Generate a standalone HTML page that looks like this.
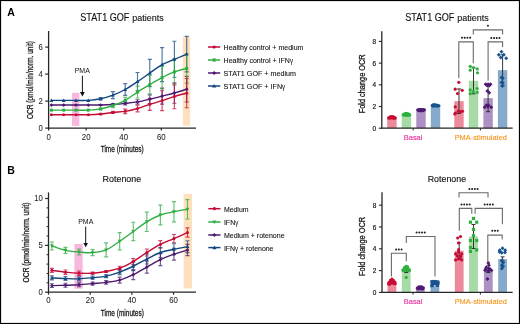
<!DOCTYPE html>
<html><head><meta charset="utf-8"><style>
html,body{margin:0;padding:0;background:#fff;width:520px;height:324px;overflow:hidden}
svg text{font-family:"Liberation Sans", sans-serif}
</style></head><body>
<svg width="520" height="324" viewBox="0 0 520 324" style="display:block;will-change:transform">
<g font-family='"Liberation Sans", sans-serif'>
<rect x="0" y="0" width="520" height="324" fill="#fff"/>
<text x="7.20" y="15.70" font-size="10.5" fill="#000" font-weight="bold">A</text>
<text x="7.20" y="174.40" font-size="10.5" fill="#000" font-weight="bold">B</text>
<text x="80.30" y="20.90" font-size="10.0" fill="#111" stroke="#111" stroke-width="0.12" textLength="49.1" lengthAdjust="spacingAndGlyphs">STAT1 GOF</text>
<text x="132.30" y="20.90" font-size="9.3" fill="#111" stroke="#111" stroke-width="0.12" textLength="31.4" lengthAdjust="spacingAndGlyphs">patients</text>
<text x="405.30" y="21.10" font-size="10.0" fill="#111" stroke="#111" stroke-width="0.12" textLength="49.1" lengthAdjust="spacingAndGlyphs">STAT1 GOF</text>
<text x="457.30" y="21.10" font-size="9.3" fill="#111" stroke="#111" stroke-width="0.12" textLength="31.4" lengthAdjust="spacingAndGlyphs">patients</text>
<text x="102.60" y="181.90" font-size="9.7" fill="#111" stroke="#111" stroke-width="0.15" textLength="38.6" lengthAdjust="spacingAndGlyphs">Rotenone</text>
<text x="427.70" y="181.70" font-size="9.7" fill="#111" stroke="#111" stroke-width="0.15" textLength="38.4" lengthAdjust="spacingAndGlyphs">Rotenone</text>
<rect x="72" y="92.8" width="7.4" height="33.1" fill="#f6b9dd"/>
<rect x="182.8" y="36.5" width="7.4" height="89.3" fill="#fde0bd"/>
<line x1="48.60" y1="31.00" x2="48.60" y2="128.70" stroke="#262626" stroke-width="1.3"/>
<line x1="48.00" y1="128.10" x2="196.00" y2="128.10" stroke="#262626" stroke-width="1.3"/>
<line x1="45.20" y1="128.10" x2="48.60" y2="128.10" stroke="#262626" stroke-width="1.2"/>
<text x="42.90" y="130.70" font-size="8.7" fill="#1a1a1a" stroke="#1a1a1a" stroke-width="0.05" text-anchor="end" textLength="4.3" lengthAdjust="spacingAndGlyphs">0</text>
<line x1="45.20" y1="101.10" x2="48.60" y2="101.10" stroke="#262626" stroke-width="1.2"/>
<text x="42.90" y="103.70" font-size="8.7" fill="#1a1a1a" stroke="#1a1a1a" stroke-width="0.05" text-anchor="end" textLength="4.3" lengthAdjust="spacingAndGlyphs">2</text>
<line x1="45.20" y1="74.10" x2="48.60" y2="74.10" stroke="#262626" stroke-width="1.2"/>
<text x="42.90" y="76.70" font-size="8.7" fill="#1a1a1a" stroke="#1a1a1a" stroke-width="0.05" text-anchor="end" textLength="4.3" lengthAdjust="spacingAndGlyphs">4</text>
<line x1="45.20" y1="47.10" x2="48.60" y2="47.10" stroke="#262626" stroke-width="1.2"/>
<text x="42.90" y="49.70" font-size="8.7" fill="#1a1a1a" stroke="#1a1a1a" stroke-width="0.05" text-anchor="end" textLength="4.3" lengthAdjust="spacingAndGlyphs">6</text>
<line x1="48.60" y1="128.10" x2="48.60" y2="130.60" stroke="#262626" stroke-width="1.2"/>
<text x="48.60" y="140.10" font-size="8.7" fill="#1a1a1a" stroke="#1a1a1a" stroke-width="0.05" text-anchor="middle" textLength="4.35" lengthAdjust="spacingAndGlyphs">0</text>
<line x1="86.16" y1="128.10" x2="86.16" y2="130.60" stroke="#262626" stroke-width="1.2"/>
<text x="86.16" y="140.10" font-size="8.7" fill="#1a1a1a" stroke="#1a1a1a" stroke-width="0.05" text-anchor="middle" textLength="8.7" lengthAdjust="spacingAndGlyphs">20</text>
<line x1="123.72" y1="128.10" x2="123.72" y2="130.60" stroke="#262626" stroke-width="1.2"/>
<text x="123.72" y="140.10" font-size="8.7" fill="#1a1a1a" stroke="#1a1a1a" stroke-width="0.05" text-anchor="middle" textLength="8.7" lengthAdjust="spacingAndGlyphs">40</text>
<line x1="161.28" y1="128.10" x2="161.28" y2="130.60" stroke="#262626" stroke-width="1.2"/>
<text x="161.28" y="140.10" font-size="8.7" fill="#1a1a1a" stroke="#1a1a1a" stroke-width="0.05" text-anchor="middle" textLength="8.7" lengthAdjust="spacingAndGlyphs">60</text>
<text x="122.20" y="151.60" font-size="9.2" fill="#1a1a1a" stroke="#1a1a1a" stroke-width="0.3" text-anchor="middle" textLength="43" lengthAdjust="spacingAndGlyphs">Time (minutes)</text>
<text x="33.40" y="80.10" font-size="9.3" fill="#1a1a1a" stroke="#1a1a1a" stroke-width="0.3" text-anchor="middle" textLength="78" lengthAdjust="spacingAndGlyphs" transform="rotate(-90 33.40 80.10)">OCR (pmol/min/norm. unit)</text>
<text x="82.30" y="72.70" font-size="7" fill="#111" text-anchor="middle">PMA</text>
<line x1="82.40" y1="75.80" x2="82.40" y2="92.50" stroke="#111" stroke-width="1"/>
<path d="M80,92 L84.8,92 L82.4,96.6Z" fill="#111"/>
<path d="M100.60,97.60 V100.00 M98.60,97.60 H102.60 M98.60,100.00 H102.60" stroke="#13467f" stroke-width="1.15" fill="none" opacity="0.75"/>
<path d="M112.90,91.66 V98.66 M110.90,91.66 H114.90 M110.90,98.66 H114.90" stroke="#13467f" stroke-width="1.15" fill="none" opacity="0.75"/>
<path d="M125.20,83.59 V95.39 M123.20,83.59 H127.20 M123.20,95.39 H127.20" stroke="#13467f" stroke-width="1.15" fill="none" opacity="0.75"/>
<path d="M137.50,72.46 V90.86 M135.50,72.46 H139.50 M135.50,90.86 H139.50" stroke="#13467f" stroke-width="1.15" fill="none" opacity="0.75"/>
<path d="M149.80,59.32 V86.72 M147.80,59.32 H151.80 M147.80,86.72 H151.80" stroke="#13467f" stroke-width="1.15" fill="none" opacity="0.75"/>
<path d="M162.10,47.65 V81.65 M160.10,47.65 H164.10 M160.10,81.65 H164.10" stroke="#13467f" stroke-width="1.15" fill="none" opacity="0.75"/>
<path d="M174.40,41.25 V77.25 M172.40,41.25 H176.40 M172.40,77.25 H176.40" stroke="#13467f" stroke-width="1.15" fill="none" opacity="0.75"/>
<path d="M186.70,36.32 V71.92 M184.70,36.32 H188.70 M184.70,71.92 H188.70" stroke="#13467f" stroke-width="1.15" fill="none" opacity="0.75"/>
<path d="M100.60,104.51 V105.51 M98.60,104.51 H102.60 M98.60,105.51 H102.60" stroke="#4b196e" stroke-width="1.15" fill="none" opacity="0.75"/>
<path d="M112.90,103.67 V105.27 M110.90,103.67 H114.90 M110.90,105.27 H114.90" stroke="#4b196e" stroke-width="1.15" fill="none" opacity="0.75"/>
<path d="M125.20,101.89 V104.89 M123.20,101.89 H127.20 M123.20,104.89 H127.20" stroke="#4b196e" stroke-width="1.15" fill="none" opacity="0.75"/>
<path d="M137.50,99.71 V104.11 M135.50,99.71 H139.50 M135.50,104.11 H139.50" stroke="#4b196e" stroke-width="1.15" fill="none" opacity="0.75"/>
<path d="M149.80,94.81 V103.61 M147.80,94.81 H151.80 M147.80,103.61 H151.80" stroke="#4b196e" stroke-width="1.15" fill="none" opacity="0.75"/>
<path d="M162.10,88.10 V104.10 M160.10,88.10 H164.10 M160.10,104.10 H164.10" stroke="#4b196e" stroke-width="1.15" fill="none" opacity="0.75"/>
<path d="M174.40,82.80 V103.20 M172.40,82.80 H176.40 M172.40,103.20 H176.40" stroke="#4b196e" stroke-width="1.15" fill="none" opacity="0.75"/>
<path d="M186.70,76.42 V102.02 M184.70,76.42 H188.70 M184.70,102.02 H188.70" stroke="#4b196e" stroke-width="1.15" fill="none" opacity="0.75"/>
<path d="M100.60,108.13 V109.73 M98.60,108.13 H102.60 M98.60,109.73 H102.60" stroke="#2eae42" stroke-width="1.15" fill="none" opacity="0.75"/>
<path d="M112.90,103.79 V107.59 M110.90,103.79 H114.90 M110.90,107.59 H114.90" stroke="#2eae42" stroke-width="1.15" fill="none" opacity="0.75"/>
<path d="M125.20,97.42 V103.42 M123.20,97.42 H127.20 M123.20,103.42 H127.20" stroke="#2eae42" stroke-width="1.15" fill="none" opacity="0.75"/>
<path d="M137.50,86.15 V97.95 M135.50,86.15 H139.50 M135.50,97.95 H139.50" stroke="#2eae42" stroke-width="1.15" fill="none" opacity="0.75"/>
<path d="M149.80,75.43 V93.83 M147.80,75.43 H151.80 M147.80,93.83 H151.80" stroke="#2eae42" stroke-width="1.15" fill="none" opacity="0.75"/>
<path d="M162.10,66.51 V88.71 M160.10,66.51 H164.10 M160.10,88.71 H164.10" stroke="#2eae42" stroke-width="1.15" fill="none" opacity="0.75"/>
<path d="M174.40,58.64 V85.24 M172.40,58.64 H176.40 M172.40,85.24 H176.40" stroke="#2eae42" stroke-width="1.15" fill="none" opacity="0.75"/>
<path d="M186.70,53.73 V83.13 M184.70,53.73 H188.70 M184.70,83.13 H188.70" stroke="#2eae42" stroke-width="1.15" fill="none" opacity="0.75"/>
<path d="M100.60,113.46 V114.66 M98.60,113.46 H102.60 M98.60,114.66 H102.60" stroke="#c60a36" stroke-width="1.15" fill="none" opacity="0.75"/>
<path d="M112.90,111.44 V113.44 M110.90,111.44 H114.90 M110.90,113.44 H114.90" stroke="#c60a36" stroke-width="1.15" fill="none" opacity="0.75"/>
<path d="M125.20,109.16 V113.56 M123.20,109.16 H127.20 M123.20,113.56 H127.20" stroke="#c60a36" stroke-width="1.15" fill="none" opacity="0.75"/>
<path d="M137.50,105.22 V111.82 M135.50,105.22 H139.50 M135.50,111.82 H139.50" stroke="#c60a36" stroke-width="1.15" fill="none" opacity="0.75"/>
<path d="M149.80,98.34 V110.34 M147.80,98.34 H151.80 M147.80,110.34 H151.80" stroke="#c60a36" stroke-width="1.15" fill="none" opacity="0.75"/>
<path d="M162.10,90.79 V110.59 M160.10,90.79 H164.10 M160.10,110.59 H164.10" stroke="#c60a36" stroke-width="1.15" fill="none" opacity="0.75"/>
<path d="M174.40,83.97 V108.78 M172.40,83.97 H176.40 M172.40,108.78 H176.40" stroke="#c60a36" stroke-width="1.15" fill="none" opacity="0.75"/>
<path d="M186.70,78.53 V107.73 M184.70,78.53 H188.70 M184.70,107.73 H188.70" stroke="#c60a36" stroke-width="1.15" fill="none" opacity="0.75"/>
<path d="M51.40,100.42 C53.45,100.42 59.60,100.42 63.70,100.42 C67.80,100.42 71.90,100.42 76.00,100.42 C80.10,100.42 84.20,100.69 88.30,100.42 C92.40,100.16 96.50,99.68 100.60,98.80 C104.70,97.93 108.80,96.71 112.90,95.16 C117.00,93.61 121.10,91.74 125.20,89.49 C129.30,87.24 133.40,84.41 137.50,81.66 C141.60,78.91 145.70,75.85 149.80,73.02 C153.90,70.19 158.00,66.94 162.10,64.65 C166.20,62.35 170.30,61.01 174.40,59.25 C178.50,57.49 184.65,54.97 186.70,54.12" stroke="#13467f" stroke-width="1.4" fill="none"/>
<path d="M51.40,98.47 L53.35,101.89 L49.45,101.89Z" fill="#13467f"/>
<path d="M63.70,98.47 L65.65,101.89 L61.75,101.89Z" fill="#13467f"/>
<path d="M76.00,98.47 L77.95,101.89 L74.05,101.89Z" fill="#13467f"/>
<path d="M88.30,98.47 L90.25,101.89 L86.35,101.89Z" fill="#13467f"/>
<path d="M100.60,96.85 L102.55,100.27 L98.65,100.27Z" fill="#13467f"/>
<path d="M112.90,93.21 L114.85,96.62 L110.95,96.62Z" fill="#13467f"/>
<path d="M125.20,87.54 L127.15,90.95 L123.25,90.95Z" fill="#13467f"/>
<path d="M137.50,79.71 L139.45,83.12 L135.55,83.12Z" fill="#13467f"/>
<path d="M149.80,71.07 L151.75,74.48 L147.85,74.48Z" fill="#13467f"/>
<path d="M162.10,62.70 L164.05,66.11 L160.15,66.11Z" fill="#13467f"/>
<path d="M174.40,57.30 L176.35,60.71 L172.45,60.71Z" fill="#13467f"/>
<path d="M186.70,52.17 L188.65,55.58 L184.75,55.58Z" fill="#13467f"/>
<path d="M51.40,105.01 C53.45,105.01 59.60,105.01 63.70,105.01 C67.80,105.01 71.90,105.01 76.00,105.01 C80.10,105.01 84.20,105.01 88.30,105.01 C92.40,105.01 96.50,105.10 100.60,105.01 C104.70,104.92 108.80,104.74 112.90,104.47 C117.00,104.20 121.10,103.82 125.20,103.39 C129.30,102.97 133.40,102.61 137.50,101.91 C141.60,101.21 145.70,100.18 149.80,99.21 C153.90,98.24 158.00,97.14 162.10,96.10 C166.20,95.07 170.30,94.15 174.40,93.00 C178.50,91.85 184.65,89.85 186.70,89.22" stroke="#4b196e" stroke-width="1.4" fill="none"/>
<path d="M51.40,103.14 L53.27,105.01 L51.40,106.89 L49.52,105.01Z" fill="#4b196e"/>
<path d="M63.70,103.14 L65.58,105.01 L63.70,106.89 L61.83,105.01Z" fill="#4b196e"/>
<path d="M76.00,103.14 L77.88,105.01 L76.00,106.89 L74.12,105.01Z" fill="#4b196e"/>
<path d="M88.30,103.14 L90.18,105.01 L88.30,106.89 L86.43,105.01Z" fill="#4b196e"/>
<path d="M100.60,103.14 L102.47,105.01 L100.60,106.89 L98.72,105.01Z" fill="#4b196e"/>
<path d="M112.90,102.60 L114.78,104.47 L112.90,106.35 L111.03,104.47Z" fill="#4b196e"/>
<path d="M125.20,101.52 L127.08,103.39 L125.20,105.27 L123.33,103.39Z" fill="#4b196e"/>
<path d="M137.50,100.03 L139.38,101.91 L137.50,103.78 L135.62,101.91Z" fill="#4b196e"/>
<path d="M149.80,97.33 L151.68,99.21 L149.80,101.08 L147.93,99.21Z" fill="#4b196e"/>
<path d="M162.10,94.23 L163.97,96.10 L162.10,97.98 L160.22,96.10Z" fill="#4b196e"/>
<path d="M174.40,91.12 L176.28,93.00 L174.40,94.88 L172.53,93.00Z" fill="#4b196e"/>
<path d="M186.70,87.34 L188.58,89.22 L186.70,91.09 L184.83,89.22Z" fill="#4b196e"/>
<path d="M51.40,110.14 C53.45,110.14 59.60,110.14 63.70,110.14 C67.80,110.14 71.90,110.14 76.00,110.14 C80.10,110.14 84.20,110.35 88.30,110.14 C92.40,109.94 96.50,109.67 100.60,108.93 C104.70,108.19 108.80,107.11 112.90,105.69 C117.00,104.27 121.10,102.70 125.20,100.42 C129.30,98.15 133.40,94.69 137.50,92.05 C141.60,89.42 145.70,87.04 149.80,84.63 C153.90,82.22 158.00,79.72 162.10,77.61 C166.20,75.49 170.30,73.47 174.40,71.94 C178.50,70.41 184.65,69.01 186.70,68.43" stroke="#2eae42" stroke-width="1.4" fill="none"/>
<rect x="49.90" y="108.64" width="3.00" height="3.00" fill="#2eae42"/>
<rect x="62.20" y="108.64" width="3.00" height="3.00" fill="#2eae42"/>
<rect x="74.50" y="108.64" width="3.00" height="3.00" fill="#2eae42"/>
<rect x="86.80" y="108.64" width="3.00" height="3.00" fill="#2eae42"/>
<rect x="99.10" y="107.43" width="3.00" height="3.00" fill="#2eae42"/>
<rect x="111.40" y="104.19" width="3.00" height="3.00" fill="#2eae42"/>
<rect x="123.70" y="98.92" width="3.00" height="3.00" fill="#2eae42"/>
<rect x="136.00" y="90.55" width="3.00" height="3.00" fill="#2eae42"/>
<rect x="148.30" y="83.13" width="3.00" height="3.00" fill="#2eae42"/>
<rect x="160.60" y="76.11" width="3.00" height="3.00" fill="#2eae42"/>
<rect x="172.90" y="70.44" width="3.00" height="3.00" fill="#2eae42"/>
<rect x="185.20" y="66.93" width="3.00" height="3.00" fill="#2eae42"/>
<path d="M51.40,114.73 C53.45,114.73 59.60,114.73 63.70,114.73 C67.80,114.73 71.90,114.73 76.00,114.73 C80.10,114.73 84.20,114.85 88.30,114.73 C92.40,114.62 96.50,114.44 100.60,114.06 C104.70,113.68 108.80,112.89 112.90,112.44 C117.00,111.99 121.10,112.01 125.20,111.36 C129.30,110.71 133.40,109.69 137.50,108.52 C141.60,107.35 145.70,105.64 149.80,104.34 C153.90,103.03 158.00,102.02 162.10,100.69 C166.20,99.37 170.30,97.64 174.40,96.38 C178.50,95.11 184.65,93.67 186.70,93.13" stroke="#c60a36" stroke-width="1.4" fill="none"/>
<circle cx="51.40" cy="114.73" r="1.5" fill="#c60a36"/>
<circle cx="63.70" cy="114.73" r="1.5" fill="#c60a36"/>
<circle cx="76.00" cy="114.73" r="1.5" fill="#c60a36"/>
<circle cx="88.30" cy="114.73" r="1.5" fill="#c60a36"/>
<circle cx="100.60" cy="114.06" r="1.5" fill="#c60a36"/>
<circle cx="112.90" cy="112.44" r="1.5" fill="#c60a36"/>
<circle cx="125.20" cy="111.36" r="1.5" fill="#c60a36"/>
<circle cx="137.50" cy="108.52" r="1.5" fill="#c60a36"/>
<circle cx="149.80" cy="104.34" r="1.5" fill="#c60a36"/>
<circle cx="162.10" cy="100.69" r="1.5" fill="#c60a36"/>
<circle cx="174.40" cy="96.38" r="1.5" fill="#c60a36"/>
<circle cx="186.70" cy="93.13" r="1.5" fill="#c60a36"/>
<line x1="208.00" y1="47.00" x2="220.20" y2="47.00" stroke="#c60a36" stroke-width="1.5"/>
<circle cx="214.10" cy="47.00" r="1.6" fill="#c60a36"/>
<text x="223.60" y="49.90" font-size="7.6" fill="#111" stroke="#111" stroke-width="0.1" textLength="79.8" lengthAdjust="spacingAndGlyphs">Healthy control + medium</text>
<line x1="208.00" y1="60.00" x2="220.20" y2="60.00" stroke="#2eae42" stroke-width="1.5"/>
<rect x="212.50" y="58.40" width="3.20" height="3.20" fill="#2eae42"/>
<text x="223.60" y="62.90" font-size="7.6" fill="#111" stroke="#111" stroke-width="0.1" textLength="69.4" lengthAdjust="spacingAndGlyphs">Healthy control + IFN<tspan font-size="6.6" stroke-width="0.05">γ</tspan></text>
<line x1="208.00" y1="73.00" x2="220.20" y2="73.00" stroke="#4b196e" stroke-width="1.5"/>
<path d="M214.10,71.00 L216.10,73.00 L214.10,75.00 L212.10,73.00Z" fill="#4b196e"/>
<text x="223.60" y="75.90" font-size="7.6" fill="#111" stroke="#111" stroke-width="0.1" textLength="72.4" lengthAdjust="spacingAndGlyphs">STAT1 GOF + medium</text>
<line x1="208.00" y1="86.00" x2="220.20" y2="86.00" stroke="#13467f" stroke-width="1.5"/>
<path d="M214.10,83.92 L216.18,87.56 L212.02,87.56Z" fill="#13467f"/>
<text x="223.60" y="88.90" font-size="7.6" fill="#111" stroke="#111" stroke-width="0.1" textLength="61.6" lengthAdjust="spacingAndGlyphs">STAT1 GOF + IFN<tspan font-size="6.6" stroke-width="0.05">γ</tspan></text>
<rect x="387.20" y="117.35" width="9.4" height="10.85" fill="#ec8a9c"/>
<rect x="401.70" y="114.75" width="9.4" height="13.45" fill="#a6dba6"/>
<rect x="416.30" y="109.97" width="9.4" height="18.23" fill="#ad90c4"/>
<rect x="430.80" y="106.28" width="9.4" height="21.92" fill="#86aacb"/>
<rect x="454.30" y="101.18" width="9.4" height="27.02" fill="#ec8a9c"/>
<rect x="468.80" y="80.79" width="9.4" height="47.41" fill="#a6dba6"/>
<rect x="483.40" y="98.15" width="9.4" height="30.05" fill="#ad90c4"/>
<rect x="497.90" y="70.15" width="9.4" height="58.05" fill="#86aacb"/>
<circle cx="388.70" cy="117.78" r="1.6" fill="#c80c34"/>
<circle cx="390.10" cy="116.81" r="1.6" fill="#c80c34"/>
<circle cx="391.50" cy="116.48" r="1.6" fill="#c80c34"/>
<circle cx="392.90" cy="116.70" r="1.6" fill="#c80c34"/>
<circle cx="394.30" cy="117.35" r="1.6" fill="#c80c34"/>
<circle cx="395.30" cy="118.11" r="1.6" fill="#c80c34"/>
<circle cx="389.50" cy="118.22" r="1.6" fill="#c80c34"/>
<circle cx="391.90" cy="117.89" r="1.6" fill="#c80c34"/>
<circle cx="393.90" cy="118.22" r="1.6" fill="#c80c34"/>
<circle cx="390.90" cy="117.57" r="1.6" fill="#c80c34"/>
<circle cx="393.10" cy="117.68" r="1.6" fill="#c80c34"/>
<circle cx="403.20" cy="114.64" r="1.6" fill="#2eb040"/>
<circle cx="404.60" cy="113.77" r="1.6" fill="#2eb040"/>
<circle cx="406.00" cy="113.44" r="1.6" fill="#2eb040"/>
<circle cx="407.40" cy="113.66" r="1.6" fill="#2eb040"/>
<circle cx="408.80" cy="114.09" r="1.6" fill="#2eb040"/>
<circle cx="409.80" cy="114.96" r="1.6" fill="#2eb040"/>
<circle cx="404.00" cy="115.18" r="1.6" fill="#2eb040"/>
<circle cx="406.40" cy="115.40" r="1.6" fill="#2eb040"/>
<circle cx="408.40" cy="115.18" r="1.6" fill="#2eb040"/>
<circle cx="405.40" cy="114.42" r="1.6" fill="#2eb040"/>
<circle cx="407.60" cy="114.64" r="1.6" fill="#2eb040"/>
<circle cx="417.80" cy="109.75" r="1.6" fill="#4e1a74"/>
<circle cx="419.20" cy="109.54" r="1.6" fill="#4e1a74"/>
<circle cx="420.60" cy="109.54" r="1.6" fill="#4e1a74"/>
<circle cx="422.00" cy="109.54" r="1.6" fill="#4e1a74"/>
<circle cx="423.40" cy="109.65" r="1.6" fill="#4e1a74"/>
<circle cx="424.40" cy="109.86" r="1.6" fill="#4e1a74"/>
<circle cx="418.60" cy="110.62" r="1.6" fill="#4e1a74"/>
<circle cx="421.00" cy="110.84" r="1.6" fill="#4e1a74"/>
<circle cx="423.00" cy="110.62" r="1.6" fill="#4e1a74"/>
<circle cx="420.00" cy="110.19" r="1.6" fill="#4e1a74"/>
<circle cx="422.20" cy="110.30" r="1.6" fill="#4e1a74"/>
<circle cx="432.30" cy="105.41" r="1.6" fill="#18528e"/>
<circle cx="433.70" cy="104.55" r="1.6" fill="#18528e"/>
<circle cx="435.10" cy="104.87" r="1.6" fill="#18528e"/>
<circle cx="436.50" cy="105.20" r="1.6" fill="#18528e"/>
<circle cx="437.90" cy="105.41" r="1.6" fill="#18528e"/>
<circle cx="438.90" cy="105.74" r="1.6" fill="#18528e"/>
<circle cx="433.10" cy="106.07" r="1.6" fill="#18528e"/>
<circle cx="435.50" cy="105.96" r="1.6" fill="#18528e"/>
<circle cx="437.50" cy="106.07" r="1.6" fill="#18528e"/>
<circle cx="434.50" cy="105.63" r="1.6" fill="#18528e"/>
<circle cx="436.70" cy="105.63" r="1.6" fill="#18528e"/>
<path d="M459.00,88.92 V113.44 M457.00,88.92 H461.00 M457.00,113.44 H461.00" stroke="#222" stroke-width="0.9" fill="none"/>
<circle cx="458.80" cy="82.30" r="1.6" fill="#c80c34"/>
<circle cx="455.20" cy="89.14" r="1.6" fill="#c80c34"/>
<circle cx="462.20" cy="90.33" r="1.6" fill="#c80c34"/>
<circle cx="457.50" cy="93.48" r="1.6" fill="#c80c34"/>
<circle cx="455.20" cy="106.93" r="1.6" fill="#c80c34"/>
<circle cx="455.40" cy="113.01" r="1.6" fill="#c80c34"/>
<circle cx="458.20" cy="111.17" r="1.6" fill="#c80c34"/>
<circle cx="460.60" cy="111.60" r="1.6" fill="#c80c34"/>
<circle cx="462.50" cy="111.27" r="1.6" fill="#c80c34"/>
<circle cx="454.80" cy="113.99" r="1.6" fill="#c80c34"/>
<path d="M473.50,67.77 V93.81 M471.50,67.77 H475.50 M471.50,93.81 H475.50" stroke="#222" stroke-width="0.9" fill="none"/>
<circle cx="470.20" cy="66.35" r="1.6" fill="#2eb040"/>
<circle cx="473.40" cy="67.55" r="1.6" fill="#2eb040"/>
<circle cx="477.20" cy="68.96" r="1.6" fill="#2eb040"/>
<circle cx="470.20" cy="70.15" r="1.6" fill="#2eb040"/>
<circle cx="477.50" cy="72.86" r="1.6" fill="#2eb040"/>
<circle cx="470.20" cy="89.90" r="1.6" fill="#2eb040"/>
<circle cx="473.40" cy="91.31" r="1.6" fill="#2eb040"/>
<circle cx="477.20" cy="88.49" r="1.6" fill="#2eb040"/>
<circle cx="477.20" cy="92.29" r="1.6" fill="#2eb040"/>
<circle cx="470.20" cy="93.70" r="1.6" fill="#2eb040"/>
<path d="M488.10,84.58 V111.71 M486.10,84.58 H490.10 M486.10,111.71 H490.10" stroke="#222" stroke-width="0.9" fill="none"/>
<path d="M485.70,82.15 L487.70,84.15 L485.70,86.15 L483.70,84.15Z" fill="#4e1a74"/>
<path d="M488.10,82.15 L490.10,84.15 L488.10,86.15 L486.10,84.15Z" fill="#4e1a74"/>
<path d="M490.50,82.15 L492.50,84.15 L490.50,86.15 L488.50,84.15Z" fill="#4e1a74"/>
<path d="M487.10,83.45 L489.10,85.45 L487.10,87.45 L485.10,85.45Z" fill="#4e1a74"/>
<path d="M489.30,83.45 L491.30,85.45 L489.30,87.45 L487.30,85.45Z" fill="#4e1a74"/>
<path d="M487.40,88.88 L489.40,90.88 L487.40,92.88 L485.40,90.88Z" fill="#4e1a74"/>
<path d="M489.20,90.72 L491.20,92.72 L489.20,94.72 L487.20,92.72Z" fill="#4e1a74"/>
<path d="M484.70,105.26 L486.70,107.26 L484.70,109.26 L482.70,107.26Z" fill="#4e1a74"/>
<path d="M486.50,103.20 L488.50,105.20 L486.50,107.20 L484.50,105.20Z" fill="#4e1a74"/>
<path d="M488.50,103.20 L490.50,105.20 L488.50,107.20 L486.50,105.20Z" fill="#4e1a74"/>
<path d="M491.20,105.26 L493.20,107.26 L491.20,109.26 L489.20,107.26Z" fill="#4e1a74"/>
<path d="M487.80,104.50 L489.80,106.50 L487.80,108.50 L485.80,106.50Z" fill="#4e1a74"/>
<path d="M502.60,54.75 V85.56 M500.60,54.75 H504.60 M500.60,85.56 H504.60" stroke="#222" stroke-width="0.9" fill="none"/>
<path d="M501.50,49.71 L503.50,51.71 L501.50,53.71 L499.50,51.71Z" fill="#18528e"/>
<path d="M498.80,52.75 L500.80,54.75 L498.80,56.75 L496.80,54.75Z" fill="#18528e"/>
<path d="M503.80,52.75 L505.80,54.75 L503.80,56.75 L501.80,54.75Z" fill="#18528e"/>
<path d="M500.80,55.46 L502.80,57.46 L500.80,59.46 L498.80,57.46Z" fill="#18528e"/>
<path d="M506.20,56.22 L508.20,58.22 L506.20,60.22 L504.20,58.22Z" fill="#18528e"/>
<path d="M501.50,75.53 L503.50,77.53 L501.50,79.53 L499.50,77.53Z" fill="#18528e"/>
<path d="M502.80,76.29 L504.80,78.29 L502.80,80.29 L500.80,78.29Z" fill="#18528e"/>
<path d="M501.50,80.41 L503.50,82.41 L501.50,84.41 L499.50,82.41Z" fill="#18528e"/>
<path d="M502.80,80.96 L504.80,82.96 L502.80,84.96 L500.80,82.96Z" fill="#18528e"/>
<path d="M502.40,84.10 L504.40,86.10 L502.40,88.10 L500.40,86.10Z" fill="#18528e"/>
<line x1="381.80" y1="31.20" x2="381.80" y2="128.80" stroke="#262626" stroke-width="1.3"/>
<line x1="381.20" y1="128.20" x2="512.70" y2="128.20" stroke="#262626" stroke-width="1.3"/>
<line x1="378.80" y1="128.20" x2="381.80" y2="128.20" stroke="#262626" stroke-width="1.1"/>
<text x="376.20" y="130.70" font-size="7" fill="#1a1a1a" stroke="#1a1a1a" stroke-width="0.2" text-anchor="end" textLength="3.6" lengthAdjust="spacingAndGlyphs">0</text>
<line x1="378.80" y1="106.50" x2="381.80" y2="106.50" stroke="#262626" stroke-width="1.1"/>
<text x="376.20" y="109.00" font-size="7" fill="#1a1a1a" stroke="#1a1a1a" stroke-width="0.2" text-anchor="end" textLength="3.6" lengthAdjust="spacingAndGlyphs">2</text>
<line x1="378.80" y1="84.80" x2="381.80" y2="84.80" stroke="#262626" stroke-width="1.1"/>
<text x="376.20" y="87.30" font-size="7" fill="#1a1a1a" stroke="#1a1a1a" stroke-width="0.2" text-anchor="end" textLength="3.6" lengthAdjust="spacingAndGlyphs">4</text>
<line x1="378.80" y1="63.10" x2="381.80" y2="63.10" stroke="#262626" stroke-width="1.1"/>
<text x="376.20" y="65.60" font-size="7" fill="#1a1a1a" stroke="#1a1a1a" stroke-width="0.2" text-anchor="end" textLength="3.6" lengthAdjust="spacingAndGlyphs">6</text>
<line x1="378.80" y1="41.40" x2="381.80" y2="41.40" stroke="#262626" stroke-width="1.1"/>
<text x="376.20" y="43.90" font-size="7" fill="#1a1a1a" stroke="#1a1a1a" stroke-width="0.2" text-anchor="end" textLength="3.6" lengthAdjust="spacingAndGlyphs">8</text>
<line x1="413.20" y1="128.20" x2="413.20" y2="130.40" stroke="#262626" stroke-width="1"/>
<line x1="480.40" y1="128.20" x2="480.40" y2="130.40" stroke="#262626" stroke-width="1"/>
<text x="364.60" y="83.80" font-size="8.2" fill="#1a1a1a" stroke="#1a1a1a" stroke-width="0.3" text-anchor="middle" textLength="59" lengthAdjust="spacingAndGlyphs" transform="rotate(-90 364.60 83.80)">Fold change OCR</text>
<path d="M458.80,78.30 V41.90 H473.30 V63.20" stroke="#6a6a6a" stroke-width="1.1" fill="none"/>
<circle cx="461.97" cy="37.80" r="1.0" fill="#1a1a1a"/>
<circle cx="464.69" cy="37.80" r="1.0" fill="#1a1a1a"/>
<circle cx="467.41" cy="37.80" r="1.0" fill="#1a1a1a"/>
<circle cx="470.13" cy="37.80" r="1.0" fill="#1a1a1a"/>
<path d="M488.10,80.50 V41.90 H502.60 V47.00" stroke="#6a6a6a" stroke-width="1.1" fill="none"/>
<circle cx="491.27" cy="37.90" r="1.0" fill="#1a1a1a"/>
<circle cx="493.99" cy="37.90" r="1.0" fill="#1a1a1a"/>
<circle cx="496.71" cy="37.90" r="1.0" fill="#1a1a1a"/>
<circle cx="499.43" cy="37.90" r="1.0" fill="#1a1a1a"/>
<path d="M473.30,34.50 V29.90 H502.60 V34.50" stroke="#6a6a6a" stroke-width="1.1" fill="none"/>
<circle cx="487.95" cy="25.70" r="1.0" fill="#1a1a1a"/>
<text x="413.10" y="139.70" font-size="7.6" fill="#e3329c" stroke="#e3329c" stroke-width="0.15" text-anchor="middle" textLength="18.6" lengthAdjust="spacingAndGlyphs">Basal</text>
<text x="480.80" y="139.60" font-size="7.6" fill="#f7961f" stroke="#f7961f" stroke-width="0.15" text-anchor="middle" textLength="52.2" lengthAdjust="spacingAndGlyphs">PMA-stimulated</text>
<rect x="74.4" y="244" width="8.3" height="44.7" fill="#f6b9dd"/>
<rect x="183.6" y="193.9" width="8.4" height="94.6" fill="#fde0bd"/>
<line x1="48.50" y1="192.40" x2="48.50" y2="292.80" stroke="#262626" stroke-width="1.3"/>
<line x1="47.90" y1="292.20" x2="196.00" y2="292.20" stroke="#262626" stroke-width="1.3"/>
<line x1="45.10" y1="292.20" x2="48.50" y2="292.20" stroke="#262626" stroke-width="1.2"/>
<text x="42.90" y="294.80" font-size="8.7" fill="#1a1a1a" stroke="#1a1a1a" stroke-width="0.05" text-anchor="end" textLength="4.3" lengthAdjust="spacingAndGlyphs">0</text>
<line x1="46.50" y1="282.83" x2="48.50" y2="282.83" stroke="#262626" stroke-width="1.0"/>
<line x1="46.50" y1="273.46" x2="48.50" y2="273.46" stroke="#262626" stroke-width="1.0"/>
<line x1="46.50" y1="264.09" x2="48.50" y2="264.09" stroke="#262626" stroke-width="1.0"/>
<line x1="46.50" y1="254.72" x2="48.50" y2="254.72" stroke="#262626" stroke-width="1.0"/>
<line x1="45.10" y1="245.35" x2="48.50" y2="245.35" stroke="#262626" stroke-width="1.2"/>
<text x="42.90" y="247.95" font-size="8.7" fill="#1a1a1a" stroke="#1a1a1a" stroke-width="0.05" text-anchor="end" textLength="4.3" lengthAdjust="spacingAndGlyphs">5</text>
<line x1="46.50" y1="235.98" x2="48.50" y2="235.98" stroke="#262626" stroke-width="1.0"/>
<line x1="46.50" y1="226.61" x2="48.50" y2="226.61" stroke="#262626" stroke-width="1.0"/>
<line x1="46.50" y1="217.24" x2="48.50" y2="217.24" stroke="#262626" stroke-width="1.0"/>
<line x1="46.50" y1="207.87" x2="48.50" y2="207.87" stroke="#262626" stroke-width="1.0"/>
<line x1="45.10" y1="198.50" x2="48.50" y2="198.50" stroke="#262626" stroke-width="1.2"/>
<text x="42.90" y="201.10" font-size="8.7" fill="#1a1a1a" stroke="#1a1a1a" stroke-width="0.05" text-anchor="end" textLength="8.6" lengthAdjust="spacingAndGlyphs">10</text>
<line x1="48.50" y1="292.20" x2="48.50" y2="294.70" stroke="#262626" stroke-width="1.2"/>
<text x="48.50" y="303.10" font-size="8.7" fill="#1a1a1a" stroke="#1a1a1a" stroke-width="0.05" text-anchor="middle" textLength="4.35" lengthAdjust="spacingAndGlyphs">0</text>
<line x1="90.18" y1="292.20" x2="90.18" y2="294.70" stroke="#262626" stroke-width="1.2"/>
<text x="90.18" y="303.10" font-size="8.7" fill="#1a1a1a" stroke="#1a1a1a" stroke-width="0.05" text-anchor="middle" textLength="8.7" lengthAdjust="spacingAndGlyphs">20</text>
<line x1="131.86" y1="292.20" x2="131.86" y2="294.70" stroke="#262626" stroke-width="1.2"/>
<text x="131.86" y="303.10" font-size="8.7" fill="#1a1a1a" stroke="#1a1a1a" stroke-width="0.05" text-anchor="middle" textLength="8.7" lengthAdjust="spacingAndGlyphs">40</text>
<line x1="173.54" y1="292.20" x2="173.54" y2="294.70" stroke="#262626" stroke-width="1.2"/>
<text x="173.54" y="303.10" font-size="8.7" fill="#1a1a1a" stroke="#1a1a1a" stroke-width="0.05" text-anchor="middle" textLength="8.7" lengthAdjust="spacingAndGlyphs">60</text>
<text x="122.30" y="315.70" font-size="9.2" fill="#1a1a1a" stroke="#1a1a1a" stroke-width="0.3" text-anchor="middle" textLength="43" lengthAdjust="spacingAndGlyphs">Time (minutes)</text>
<text x="28.90" y="242.40" font-size="9.3" fill="#1a1a1a" stroke="#1a1a1a" stroke-width="0.3" text-anchor="middle" textLength="80" lengthAdjust="spacingAndGlyphs" transform="rotate(-90 28.90 242.40)">OCR (pmol/min/norm. unit)</text>
<text x="85.80" y="223.60" font-size="7" fill="#111" text-anchor="middle">PMA</text>
<line x1="85.70" y1="226.70" x2="85.70" y2="243.50" stroke="#111" stroke-width="1"/>
<path d="M83.4,243 L88.0,243 L85.7,247.3Z" fill="#111"/>
<path d="M51.90,242.01 V250.01 M49.90,242.01 H53.90 M49.90,250.01 H53.90" stroke="#2eae42" stroke-width="1.15" fill="none" opacity="0.75"/>
<path d="M65.46,247.32 V253.32 M63.46,247.32 H67.46 M63.46,253.32 H67.46" stroke="#2eae42" stroke-width="1.15" fill="none" opacity="0.75"/>
<path d="M79.02,249.00 V255.00 M77.02,249.00 H81.02 M77.02,255.00 H81.02" stroke="#2eae42" stroke-width="1.15" fill="none" opacity="0.75"/>
<path d="M92.58,249.66 V255.66 M90.58,249.66 H94.58 M90.58,255.66 H94.58" stroke="#2eae42" stroke-width="1.15" fill="none" opacity="0.75"/>
<path d="M106.14,242.94 V256.94 M104.14,242.94 H108.14 M104.14,256.94 H108.14" stroke="#2eae42" stroke-width="1.15" fill="none" opacity="0.75"/>
<path d="M119.70,232.63 V249.83 M117.70,232.63 H121.70 M117.70,249.83 H121.70" stroke="#2eae42" stroke-width="1.15" fill="none" opacity="0.75"/>
<path d="M133.26,222.28 V240.68 M131.26,222.28 H135.26 M131.26,240.68 H135.26" stroke="#2eae42" stroke-width="1.15" fill="none" opacity="0.75"/>
<path d="M146.82,212.13 V231.53 M144.82,212.13 H148.82 M144.82,231.53 H148.82" stroke="#2eae42" stroke-width="1.15" fill="none" opacity="0.75"/>
<path d="M160.38,205.09 V224.89 M158.38,205.09 H162.38 M158.38,224.89 H162.38" stroke="#2eae42" stroke-width="1.15" fill="none" opacity="0.75"/>
<path d="M173.94,201.61 V221.81 M171.94,201.61 H175.94 M171.94,221.81 H175.94" stroke="#2eae42" stroke-width="1.15" fill="none" opacity="0.75"/>
<path d="M187.50,199.58 V218.98 M185.50,199.58 H189.50 M185.50,218.98 H189.50" stroke="#2eae42" stroke-width="1.15" fill="none" opacity="0.75"/>
<path d="M51.90,268.37 V272.37 M49.90,268.37 H53.90 M49.90,272.37 H53.90" stroke="#c60a36" stroke-width="1.15" fill="none" opacity="0.75"/>
<path d="M65.46,269.95 V274.35 M63.46,269.95 H67.46 M63.46,274.35 H67.46" stroke="#c60a36" stroke-width="1.15" fill="none" opacity="0.75"/>
<path d="M79.02,270.98 V275.38 M77.02,270.98 H81.02 M77.02,275.38 H81.02" stroke="#c60a36" stroke-width="1.15" fill="none" opacity="0.75"/>
<path d="M92.58,272.18 V274.18 M90.58,272.18 H94.58 M90.58,274.18 H94.58" stroke="#c60a36" stroke-width="1.15" fill="none" opacity="0.75"/>
<path d="M106.14,270.49 V272.49 M104.14,270.49 H108.14 M104.14,272.49 H108.14" stroke="#c60a36" stroke-width="1.15" fill="none" opacity="0.75"/>
<path d="M119.70,266.21 V270.21 M117.70,266.21 H121.70 M117.70,270.21 H121.70" stroke="#c60a36" stroke-width="1.15" fill="none" opacity="0.75"/>
<path d="M133.26,258.56 V264.56 M131.26,258.56 H135.26 M131.26,264.56 H135.26" stroke="#c60a36" stroke-width="1.15" fill="none" opacity="0.75"/>
<path d="M146.82,248.97 V255.97 M144.82,248.97 H148.82 M144.82,255.97 H148.82" stroke="#c60a36" stroke-width="1.15" fill="none" opacity="0.75"/>
<path d="M160.38,240.61 V248.21 M158.38,240.61 H162.38 M158.38,248.21 H162.38" stroke="#c60a36" stroke-width="1.15" fill="none" opacity="0.75"/>
<path d="M173.94,234.50 V242.70 M171.94,234.50 H175.94 M171.94,242.70 H175.94" stroke="#c60a36" stroke-width="1.15" fill="none" opacity="0.75"/>
<path d="M187.50,227.91 V237.11 M185.50,227.91 H189.50 M185.50,237.11 H189.50" stroke="#c60a36" stroke-width="1.15" fill="none" opacity="0.75"/>
<path d="M51.90,275.86 V279.86 M49.90,275.86 H53.90 M49.90,279.86 H53.90" stroke="#13467f" stroke-width="1.15" fill="none" opacity="0.75"/>
<path d="M65.46,276.52 V280.52 M63.46,276.52 H67.46 M63.46,280.52 H67.46" stroke="#13467f" stroke-width="1.15" fill="none" opacity="0.75"/>
<path d="M79.02,276.80 V280.80 M77.02,276.80 H81.02 M77.02,280.80 H81.02" stroke="#13467f" stroke-width="1.15" fill="none" opacity="0.75"/>
<path d="M92.58,276.18 V279.18 M90.58,276.18 H94.58 M90.58,279.18 H94.58" stroke="#13467f" stroke-width="1.15" fill="none" opacity="0.75"/>
<path d="M106.14,274.58 V277.58 M104.14,274.58 H108.14 M104.14,277.58 H108.14" stroke="#13467f" stroke-width="1.15" fill="none" opacity="0.75"/>
<path d="M119.70,269.55 V274.55 M117.70,269.55 H121.70 M117.70,274.55 H121.70" stroke="#13467f" stroke-width="1.15" fill="none" opacity="0.75"/>
<path d="M133.26,261.85 V270.65 M131.26,261.85 H135.26 M131.26,270.65 H135.26" stroke="#13467f" stroke-width="1.15" fill="none" opacity="0.75"/>
<path d="M146.82,254.03 V264.03 M144.82,254.03 H148.82 M144.82,264.03 H148.82" stroke="#13467f" stroke-width="1.15" fill="none" opacity="0.75"/>
<path d="M160.38,247.47 V257.47 M158.38,247.47 H162.38 M158.38,257.47 H162.38" stroke="#13467f" stroke-width="1.15" fill="none" opacity="0.75"/>
<path d="M173.94,243.79 V254.79 M171.94,243.79 H175.94 M171.94,254.79 H175.94" stroke="#13467f" stroke-width="1.15" fill="none" opacity="0.75"/>
<path d="M187.50,240.76 V252.56 M185.50,240.76 H189.50 M185.50,252.56 H189.50" stroke="#13467f" stroke-width="1.15" fill="none" opacity="0.75"/>
<path d="M51.90,283.74 V287.54 M49.90,283.74 H53.90 M49.90,287.54 H53.90" stroke="#4b196e" stroke-width="1.15" fill="none" opacity="0.75"/>
<path d="M65.46,283.27 V287.27 M63.46,283.27 H67.46 M63.46,287.27 H67.46" stroke="#4b196e" stroke-width="1.15" fill="none" opacity="0.75"/>
<path d="M79.02,282.70 V286.70 M77.02,282.70 H81.02 M77.02,286.70 H81.02" stroke="#4b196e" stroke-width="1.15" fill="none" opacity="0.75"/>
<path d="M92.58,282.08 V285.08 M90.58,282.08 H94.58 M90.58,285.08 H94.58" stroke="#4b196e" stroke-width="1.15" fill="none" opacity="0.75"/>
<path d="M106.14,280.56 V284.16 M104.14,280.56 H108.14 M104.14,284.16 H108.14" stroke="#4b196e" stroke-width="1.15" fill="none" opacity="0.75"/>
<path d="M119.70,277.11 V283.11 M117.70,277.11 H121.70 M117.70,283.11 H121.70" stroke="#4b196e" stroke-width="1.15" fill="none" opacity="0.75"/>
<path d="M133.26,269.68 V279.68 M131.26,269.68 H135.26 M131.26,279.68 H135.26" stroke="#4b196e" stroke-width="1.15" fill="none" opacity="0.75"/>
<path d="M146.82,261.09 V273.09 M144.82,261.09 H148.82 M144.82,273.09 H148.82" stroke="#4b196e" stroke-width="1.15" fill="none" opacity="0.75"/>
<path d="M160.38,253.69 V265.69 M158.38,253.69 H162.38 M158.38,265.69 H162.38" stroke="#4b196e" stroke-width="1.15" fill="none" opacity="0.75"/>
<path d="M173.94,248.26 V260.06 M171.94,248.26 H175.94 M171.94,260.06 H175.94" stroke="#4b196e" stroke-width="1.15" fill="none" opacity="0.75"/>
<path d="M187.50,244.44 V255.63 M185.50,244.44 H189.50 M185.50,255.63 H189.50" stroke="#4b196e" stroke-width="1.15" fill="none" opacity="0.75"/>
<path d="M51.90,246.01 C54.16,246.72 60.94,249.32 65.46,250.32 C69.98,251.32 74.50,251.61 79.02,252.00 C83.54,252.39 88.06,253.00 92.58,252.66 C97.10,252.32 101.62,251.85 106.14,249.94 C110.66,248.04 115.18,244.30 119.70,241.23 C124.22,238.15 128.74,234.72 133.26,231.48 C137.78,228.25 142.30,224.58 146.82,221.83 C151.34,219.08 155.86,216.68 160.38,214.99 C164.90,213.30 169.42,212.66 173.94,211.71 C178.46,210.76 185.24,209.68 187.50,209.28" stroke="#2eae42" stroke-width="1.4" fill="none"/>
<path d="M51.90,247.96 L53.85,244.54 L49.95,244.54Z" fill="#2eae42"/>
<path d="M65.46,252.27 L67.41,248.85 L63.51,248.85Z" fill="#2eae42"/>
<path d="M79.02,253.95 L80.97,250.54 L77.07,250.54Z" fill="#2eae42"/>
<path d="M92.58,254.61 L94.53,251.20 L90.63,251.20Z" fill="#2eae42"/>
<path d="M106.14,251.89 L108.09,248.48 L104.19,248.48Z" fill="#2eae42"/>
<path d="M119.70,243.18 L121.65,239.76 L117.75,239.76Z" fill="#2eae42"/>
<path d="M133.26,233.43 L135.21,230.02 L131.31,230.02Z" fill="#2eae42"/>
<path d="M146.82,223.78 L148.77,220.37 L144.87,220.37Z" fill="#2eae42"/>
<path d="M160.38,216.94 L162.33,213.53 L158.43,213.53Z" fill="#2eae42"/>
<path d="M173.94,213.66 L175.89,210.25 L171.99,210.25Z" fill="#2eae42"/>
<path d="M187.50,211.23 L189.45,207.81 L185.55,207.81Z" fill="#2eae42"/>
<path d="M51.90,270.37 C54.16,270.66 60.94,271.68 65.46,272.15 C69.98,272.62 74.50,273.01 79.02,273.18 C83.54,273.35 88.06,273.46 92.58,273.18 C97.10,272.90 101.62,272.32 106.14,271.49 C110.66,270.66 115.18,269.87 119.70,268.21 C124.22,266.56 128.74,264.18 133.26,261.56 C137.78,258.94 142.30,255.33 146.82,252.47 C151.34,249.61 155.86,246.72 160.38,244.41 C164.90,242.10 169.42,240.59 173.94,238.60 C178.46,236.62 185.24,233.53 187.50,232.51" stroke="#c60a36" stroke-width="1.4" fill="none"/>
<circle cx="51.90" cy="270.37" r="1.5" fill="#c60a36"/>
<circle cx="65.46" cy="272.15" r="1.5" fill="#c60a36"/>
<circle cx="79.02" cy="273.18" r="1.5" fill="#c60a36"/>
<circle cx="92.58" cy="273.18" r="1.5" fill="#c60a36"/>
<circle cx="106.14" cy="271.49" r="1.5" fill="#c60a36"/>
<circle cx="119.70" cy="268.21" r="1.5" fill="#c60a36"/>
<circle cx="133.26" cy="261.56" r="1.5" fill="#c60a36"/>
<circle cx="146.82" cy="252.47" r="1.5" fill="#c60a36"/>
<circle cx="160.38" cy="244.41" r="1.5" fill="#c60a36"/>
<circle cx="173.94" cy="238.60" r="1.5" fill="#c60a36"/>
<circle cx="187.50" cy="232.51" r="1.5" fill="#c60a36"/>
<path d="M51.90,277.86 C54.16,277.97 60.94,278.36 65.46,278.52 C69.98,278.68 74.50,278.94 79.02,278.80 C83.54,278.66 88.06,278.13 92.58,277.68 C97.10,277.22 101.62,277.02 106.14,276.08 C110.66,275.15 115.18,273.69 119.70,272.05 C124.22,270.41 128.74,268.42 133.26,266.25 C137.78,264.07 142.30,261.33 146.82,259.03 C151.34,256.73 155.86,254.10 160.38,252.47 C164.90,250.85 169.42,250.25 173.94,249.29 C178.46,248.32 185.24,247.10 187.50,246.66" stroke="#13467f" stroke-width="1.4" fill="none"/>
<path d="M51.90,275.91 L53.85,279.33 L49.95,279.33Z" fill="#13467f"/>
<path d="M65.46,276.57 L67.41,279.98 L63.51,279.98Z" fill="#13467f"/>
<path d="M79.02,276.85 L80.97,280.26 L77.07,280.26Z" fill="#13467f"/>
<path d="M92.58,275.73 L94.53,279.14 L90.63,279.14Z" fill="#13467f"/>
<path d="M106.14,274.13 L108.09,277.55 L104.19,277.55Z" fill="#13467f"/>
<path d="M119.70,270.10 L121.65,273.52 L117.75,273.52Z" fill="#13467f"/>
<path d="M133.26,264.30 L135.21,267.71 L131.31,267.71Z" fill="#13467f"/>
<path d="M146.82,257.08 L148.77,260.49 L144.87,260.49Z" fill="#13467f"/>
<path d="M160.38,250.52 L162.33,253.93 L158.43,253.93Z" fill="#13467f"/>
<path d="M173.94,247.34 L175.89,250.75 L171.99,250.75Z" fill="#13467f"/>
<path d="M187.50,244.71 L189.45,248.12 L185.55,248.12Z" fill="#13467f"/>
<path d="M51.90,285.64 C54.16,285.58 60.94,285.42 65.46,285.27 C69.98,285.11 74.50,284.99 79.02,284.70 C83.54,284.42 88.06,283.97 92.58,283.58 C97.10,283.19 101.62,282.94 106.14,282.36 C110.66,281.78 115.18,281.39 119.70,280.11 C124.22,278.83 128.74,276.85 133.26,274.68 C137.78,272.51 142.30,269.59 146.82,267.09 C151.34,264.59 155.86,261.84 160.38,259.69 C164.90,257.53 169.42,255.77 173.94,254.16 C178.46,252.55 185.24,250.72 187.50,250.03" stroke="#4b196e" stroke-width="1.4" fill="none"/>
<path d="M51.90,283.77 L53.77,285.64 L51.90,287.52 L50.02,285.64Z" fill="#4b196e"/>
<path d="M65.46,283.39 L67.33,285.27 L65.46,287.14 L63.58,285.27Z" fill="#4b196e"/>
<path d="M79.02,282.83 L80.89,284.70 L79.02,286.58 L77.14,284.70Z" fill="#4b196e"/>
<path d="M92.58,281.70 L94.45,283.58 L92.58,285.45 L90.70,283.58Z" fill="#4b196e"/>
<path d="M106.14,280.49 L108.02,282.36 L106.14,284.24 L104.27,282.36Z" fill="#4b196e"/>
<path d="M119.70,278.24 L121.57,280.11 L119.70,281.99 L117.82,280.11Z" fill="#4b196e"/>
<path d="M133.26,272.80 L135.13,274.68 L133.26,276.55 L131.38,274.68Z" fill="#4b196e"/>
<path d="M146.82,265.21 L148.69,267.09 L146.82,268.96 L144.94,267.09Z" fill="#4b196e"/>
<path d="M160.38,257.81 L162.25,259.69 L160.38,261.56 L158.50,259.69Z" fill="#4b196e"/>
<path d="M173.94,252.28 L175.81,254.16 L173.94,256.03 L172.06,254.16Z" fill="#4b196e"/>
<path d="M187.50,248.16 L189.38,250.03 L187.50,251.91 L185.62,250.03Z" fill="#4b196e"/>
<line x1="208.30" y1="208.70" x2="220.50" y2="208.70" stroke="#c60a36" stroke-width="1.5"/>
<circle cx="214.40" cy="208.70" r="1.6" fill="#c60a36"/>
<text x="223.90" y="211.60" font-size="7.6" fill="#111" stroke="#111" stroke-width="0.1" textLength="24.6" lengthAdjust="spacingAndGlyphs">Medium</text>
<line x1="208.30" y1="222.00" x2="220.50" y2="222.00" stroke="#2eae42" stroke-width="1.5"/>
<path d="M214.40,224.08 L216.48,220.44 L212.32,220.44Z" fill="#2eae42"/>
<text x="223.90" y="224.90" font-size="7.6" fill="#111" stroke="#111" stroke-width="0.1" textLength="14.4" lengthAdjust="spacingAndGlyphs">IFN<tspan font-size="6.6" stroke-width="0.05">γ</tspan></text>
<line x1="208.30" y1="235.00" x2="220.50" y2="235.00" stroke="#4b196e" stroke-width="1.5"/>
<path d="M214.40,233.00 L216.40,235.00 L214.40,237.00 L212.40,235.00Z" fill="#4b196e"/>
<text x="223.90" y="237.90" font-size="7.6" fill="#111" stroke="#111" stroke-width="0.1" textLength="60.7" lengthAdjust="spacingAndGlyphs">Medium + rotenone</text>
<line x1="208.30" y1="247.60" x2="220.50" y2="247.60" stroke="#13467f" stroke-width="1.5"/>
<path d="M214.40,245.52 L216.48,249.16 L212.32,249.16Z" fill="#13467f"/>
<text x="223.90" y="250.50" font-size="7.6" fill="#111" stroke="#111" stroke-width="0.1" textLength="49.6" lengthAdjust="spacingAndGlyphs">IFN<tspan font-size="6.6" stroke-width="0.05">γ</tspan> + rotenone</text>
<rect x="387.50" y="283.13" width="8.8" height="9.26" fill="#ec8a9c"/>
<rect x="401.80" y="271.25" width="8.8" height="21.15" fill="#a6dba6"/>
<rect x="415.90" y="288.48" width="8.8" height="3.92" fill="#ad90c4"/>
<rect x="430.50" y="285.86" width="8.8" height="6.54" fill="#86aacb"/>
<rect x="454.80" y="250.76" width="8.8" height="41.64" fill="#ec8a9c"/>
<rect x="469.10" y="236.48" width="8.8" height="55.92" fill="#a6dba6"/>
<rect x="483.90" y="272.02" width="8.8" height="20.38" fill="#ad90c4"/>
<rect x="498.20" y="259.05" width="8.8" height="33.35" fill="#86aacb"/>
<circle cx="388.90" cy="282.59" r="1.6" fill="#c80c34"/>
<circle cx="390.40" cy="280.41" r="1.6" fill="#c80c34"/>
<circle cx="391.90" cy="279.10" r="1.6" fill="#c80c34"/>
<circle cx="393.40" cy="280.41" r="1.6" fill="#c80c34"/>
<circle cx="394.90" cy="282.04" r="1.6" fill="#c80c34"/>
<circle cx="389.40" cy="284.22" r="1.6" fill="#c80c34"/>
<circle cx="391.90" cy="283.13" r="1.6" fill="#c80c34"/>
<circle cx="394.40" cy="283.68" r="1.6" fill="#c80c34"/>
<circle cx="392.90" cy="281.50" r="1.6" fill="#c80c34"/>
<circle cx="390.90" cy="282.04" r="1.6" fill="#c80c34"/>
<circle cx="388.70" cy="283.90" r="1.6" fill="#c80c34"/>
<circle cx="395.20" cy="283.68" r="1.6" fill="#c80c34"/>
<path d="M406.20,269.95 V272.56 M404.20,269.95 H408.20 M404.20,272.56 H408.20" stroke="#222" stroke-width="0.9" fill="none"/>
<circle cx="403.20" cy="269.51" r="1.6" fill="#2eb040"/>
<circle cx="404.70" cy="267.33" r="1.6" fill="#2eb040"/>
<circle cx="406.20" cy="266.24" r="1.6" fill="#2eb040"/>
<circle cx="407.70" cy="266.78" r="1.6" fill="#2eb040"/>
<circle cx="409.20" cy="269.51" r="1.6" fill="#2eb040"/>
<circle cx="404.20" cy="270.60" r="1.6" fill="#2eb040"/>
<circle cx="408.20" cy="270.60" r="1.6" fill="#2eb040"/>
<circle cx="406.20" cy="268.96" r="1.6" fill="#2eb040"/>
<circle cx="403.00" cy="270.38" r="1.6" fill="#2eb040"/>
<circle cx="409.40" cy="270.60" r="1.6" fill="#2eb040"/>
<circle cx="405.20" cy="268.42" r="1.6" fill="#2eb040"/>
<circle cx="407.20" cy="268.42" r="1.6" fill="#2eb040"/>
<circle cx="406.20" cy="277.47" r="1.6" fill="#2eb040"/>
<circle cx="417.30" cy="288.04" r="1.6" fill="#4e1a74"/>
<circle cx="418.80" cy="286.95" r="1.6" fill="#4e1a74"/>
<circle cx="420.30" cy="286.73" r="1.6" fill="#4e1a74"/>
<circle cx="421.80" cy="286.95" r="1.6" fill="#4e1a74"/>
<circle cx="423.30" cy="287.82" r="1.6" fill="#4e1a74"/>
<circle cx="418.30" cy="288.80" r="1.6" fill="#4e1a74"/>
<circle cx="421.30" cy="288.80" r="1.6" fill="#4e1a74"/>
<circle cx="419.80" cy="288.04" r="1.6" fill="#4e1a74"/>
<circle cx="422.80" cy="288.80" r="1.6" fill="#4e1a74"/>
<rect x="430.30" y="280.12" width="3.20" height="3.20" fill="#18528e"/>
<rect x="432.30" y="279.90" width="3.20" height="3.20" fill="#18528e"/>
<rect x="434.30" y="280.12" width="3.20" height="3.20" fill="#18528e"/>
<rect x="436.30" y="280.44" width="3.20" height="3.20" fill="#18528e"/>
<rect x="430.80" y="282.62" width="3.20" height="3.20" fill="#18528e"/>
<rect x="433.30" y="282.08" width="3.20" height="3.20" fill="#18528e"/>
<rect x="435.80" y="283.71" width="3.20" height="3.20" fill="#18528e"/>
<rect x="436.30" y="282.08" width="3.20" height="3.20" fill="#18528e"/>
<rect x="430.30" y="284.04" width="3.20" height="3.20" fill="#18528e"/>
<rect x="432.30" y="281.53" width="3.20" height="3.20" fill="#18528e"/>
<rect x="434.80" y="281.53" width="3.20" height="3.20" fill="#18528e"/>
<path d="M459.20,242.80 V258.72 M457.20,242.80 H461.20 M457.20,258.72 H461.20" stroke="#222" stroke-width="0.9" fill="none"/>
<circle cx="460.50" cy="236.48" r="1.6" fill="#c80c34"/>
<circle cx="457.70" cy="238.01" r="1.6" fill="#c80c34"/>
<circle cx="458.60" cy="242.91" r="1.6" fill="#c80c34"/>
<circle cx="458.60" cy="249.67" r="1.6" fill="#c80c34"/>
<circle cx="455.60" cy="253.92" r="1.6" fill="#c80c34"/>
<circle cx="461.70" cy="253.92" r="1.6" fill="#c80c34"/>
<circle cx="458.60" cy="252.18" r="1.6" fill="#c80c34"/>
<circle cx="457.40" cy="255.88" r="1.6" fill="#c80c34"/>
<circle cx="455.60" cy="259.92" r="1.6" fill="#c80c34"/>
<circle cx="461.70" cy="259.92" r="1.6" fill="#c80c34"/>
<circle cx="458.60" cy="258.94" r="1.6" fill="#c80c34"/>
<circle cx="460.70" cy="256.43" r="1.6" fill="#c80c34"/>
<path d="M473.50,224.49 V248.47 M471.50,224.49 H475.50 M471.50,248.47 H475.50" stroke="#222" stroke-width="0.9" fill="none"/>
<rect x="471.90" y="216.90" width="3.20" height="3.20" fill="#2eb040"/>
<rect x="468.80" y="220.60" width="3.20" height="3.20" fill="#2eb040"/>
<rect x="475.10" y="220.60" width="3.20" height="3.20" fill="#2eb040"/>
<rect x="471.90" y="227.80" width="3.20" height="3.20" fill="#2eb040"/>
<rect x="471.90" y="234.12" width="3.20" height="3.20" fill="#2eb040"/>
<rect x="468.80" y="238.92" width="3.20" height="3.20" fill="#2eb040"/>
<rect x="475.10" y="238.92" width="3.20" height="3.20" fill="#2eb040"/>
<rect x="468.80" y="245.89" width="3.20" height="3.20" fill="#2eb040"/>
<rect x="475.10" y="248.29" width="3.20" height="3.20" fill="#2eb040"/>
<rect x="468.80" y="249.82" width="3.20" height="3.20" fill="#2eb040"/>
<path d="M488.30,271.47 V272.56 M486.30,271.47 H490.30 M486.30,272.56 H490.30" stroke="#222" stroke-width="0.9" fill="none"/>
<path d="M488.30,261.08 L490.30,263.08 L488.30,265.08 L486.30,263.08Z" fill="#4e1a74"/>
<path d="M488.90,263.15 L490.90,265.15 L488.90,267.15 L486.90,265.15Z" fill="#4e1a74"/>
<path d="M486.30,265.22 L488.30,267.22 L486.30,269.22 L484.30,267.22Z" fill="#4e1a74"/>
<path d="M485.50,267.18 L487.50,269.18 L485.50,271.18 L483.50,269.18Z" fill="#4e1a74"/>
<path d="M490.20,267.18 L492.20,269.18 L490.20,271.18 L488.20,269.18Z" fill="#4e1a74"/>
<path d="M488.30,268.60 L490.30,270.60 L488.30,272.60 L486.30,270.60Z" fill="#4e1a74"/>
<path d="M485.10,268.60 L487.10,270.60 L485.10,272.60 L483.10,270.60Z" fill="#4e1a74"/>
<path d="M491.50,268.60 L493.50,270.60 L491.50,272.60 L489.50,270.60Z" fill="#4e1a74"/>
<path d="M487.50,277.10 L489.50,279.10 L487.50,281.10 L485.50,279.10Z" fill="#4e1a74"/>
<path d="M488.80,266.42 L490.80,268.42 L488.80,270.42 L486.80,268.42Z" fill="#4e1a74"/>
<path d="M502.60,256.87 V261.23 M500.60,256.87 H504.60 M500.60,261.23 H504.60" stroke="#222" stroke-width="0.9" fill="none"/>
<path d="M499.70,248.22 L501.70,250.22 L499.70,252.22 L497.70,250.22Z" fill="#18528e"/>
<path d="M505.20,248.22 L507.20,250.22 L505.20,252.22 L503.20,250.22Z" fill="#18528e"/>
<path d="M502.50,246.15 L504.50,248.15 L502.50,250.15 L500.50,248.15Z" fill="#18528e"/>
<path d="M501.80,250.83 L503.80,252.83 L501.80,254.83 L499.80,252.83Z" fill="#18528e"/>
<path d="M499.60,250.07 L501.60,252.07 L499.60,254.07 L497.60,252.07Z" fill="#18528e"/>
<path d="M505.00,250.61 L507.00,252.61 L505.00,254.61 L503.00,252.61Z" fill="#18528e"/>
<path d="M501.80,258.46 L503.80,260.46 L501.80,262.46 L499.80,260.46Z" fill="#18528e"/>
<path d="M503.10,260.42 L505.10,262.42 L503.10,264.42 L501.10,262.42Z" fill="#18528e"/>
<path d="M501.80,263.15 L503.80,265.15 L501.80,267.15 L499.80,265.15Z" fill="#18528e"/>
<path d="M503.10,264.24 L505.10,266.24 L503.10,268.24 L501.10,266.24Z" fill="#18528e"/>
<path d="M501.80,266.53 L503.80,268.53 L501.80,270.53 L499.80,268.53Z" fill="#18528e"/>
<line x1="382.00" y1="192.30" x2="382.00" y2="293.00" stroke="#262626" stroke-width="1.3"/>
<line x1="381.40" y1="292.40" x2="512.70" y2="292.40" stroke="#262626" stroke-width="1.3"/>
<line x1="379.00" y1="292.40" x2="382.00" y2="292.40" stroke="#262626" stroke-width="1.1"/>
<text x="376.40" y="294.90" font-size="7" fill="#1a1a1a" stroke="#1a1a1a" stroke-width="0.2" text-anchor="end" textLength="3.6" lengthAdjust="spacingAndGlyphs">0</text>
<line x1="379.00" y1="270.60" x2="382.00" y2="270.60" stroke="#262626" stroke-width="1.1"/>
<text x="376.40" y="273.10" font-size="7" fill="#1a1a1a" stroke="#1a1a1a" stroke-width="0.2" text-anchor="end" textLength="3.6" lengthAdjust="spacingAndGlyphs">2</text>
<line x1="379.00" y1="248.80" x2="382.00" y2="248.80" stroke="#262626" stroke-width="1.1"/>
<text x="376.40" y="251.30" font-size="7" fill="#1a1a1a" stroke="#1a1a1a" stroke-width="0.2" text-anchor="end" textLength="3.6" lengthAdjust="spacingAndGlyphs">4</text>
<line x1="379.00" y1="227.00" x2="382.00" y2="227.00" stroke="#262626" stroke-width="1.1"/>
<text x="376.40" y="229.50" font-size="7" fill="#1a1a1a" stroke="#1a1a1a" stroke-width="0.2" text-anchor="end" textLength="3.6" lengthAdjust="spacingAndGlyphs">6</text>
<line x1="379.00" y1="205.20" x2="382.00" y2="205.20" stroke="#262626" stroke-width="1.1"/>
<text x="376.40" y="207.70" font-size="7" fill="#1a1a1a" stroke="#1a1a1a" stroke-width="0.2" text-anchor="end" textLength="3.6" lengthAdjust="spacingAndGlyphs">8</text>
<line x1="413.00" y1="292.40" x2="413.00" y2="294.60" stroke="#262626" stroke-width="1"/>
<line x1="480.40" y1="292.40" x2="480.40" y2="294.60" stroke="#262626" stroke-width="1"/>
<text x="364.60" y="246.40" font-size="8.2" fill="#1a1a1a" stroke="#1a1a1a" stroke-width="0.3" text-anchor="middle" textLength="59" lengthAdjust="spacingAndGlyphs" transform="rotate(-90 364.60 246.40)">Fold change OCR</text>
<path d="M391.40,276.40 V253.30 H406.30 V261.30" stroke="#6a6a6a" stroke-width="1.1" fill="none"/>
<circle cx="396.13" cy="249.40" r="1.0" fill="#1a1a1a"/>
<circle cx="398.85" cy="249.40" r="1.0" fill="#1a1a1a"/>
<circle cx="401.57" cy="249.40" r="1.0" fill="#1a1a1a"/>
<path d="M406.30,243.00 V236.50 H435.00 V276.40" stroke="#6a6a6a" stroke-width="1.1" fill="none"/>
<circle cx="416.57" cy="232.60" r="1.0" fill="#1a1a1a"/>
<circle cx="419.29" cy="232.60" r="1.0" fill="#1a1a1a"/>
<circle cx="422.01" cy="232.60" r="1.0" fill="#1a1a1a"/>
<circle cx="424.73" cy="232.60" r="1.0" fill="#1a1a1a"/>
<path d="M459.30,230.80 V208.40 H471.80 V213.80" stroke="#6a6a6a" stroke-width="1.1" fill="none"/>
<circle cx="461.47" cy="204.40" r="1.0" fill="#1a1a1a"/>
<circle cx="464.19" cy="204.40" r="1.0" fill="#1a1a1a"/>
<circle cx="466.91" cy="204.40" r="1.0" fill="#1a1a1a"/>
<circle cx="469.63" cy="204.40" r="1.0" fill="#1a1a1a"/>
<path d="M475.10,213.80 V208.40 H502.40 V224.30" stroke="#6a6a6a" stroke-width="1.1" fill="none"/>
<circle cx="484.67" cy="204.40" r="1.0" fill="#1a1a1a"/>
<circle cx="487.39" cy="204.40" r="1.0" fill="#1a1a1a"/>
<circle cx="490.11" cy="204.40" r="1.0" fill="#1a1a1a"/>
<circle cx="492.83" cy="204.40" r="1.0" fill="#1a1a1a"/>
<path d="M459.00,197.60 V192.80 H488.00 V197.60" stroke="#6a6a6a" stroke-width="1.1" fill="none"/>
<circle cx="469.42" cy="189.00" r="1.0" fill="#1a1a1a"/>
<circle cx="472.14" cy="189.00" r="1.0" fill="#1a1a1a"/>
<circle cx="474.86" cy="189.00" r="1.0" fill="#1a1a1a"/>
<circle cx="477.58" cy="189.00" r="1.0" fill="#1a1a1a"/>
<path d="M487.80,262.00 V235.10 H502.20 V239.40" stroke="#6a6a6a" stroke-width="1.1" fill="none"/>
<circle cx="492.28" cy="230.80" r="1.0" fill="#1a1a1a"/>
<circle cx="495.00" cy="230.80" r="1.0" fill="#1a1a1a"/>
<circle cx="497.72" cy="230.80" r="1.0" fill="#1a1a1a"/>
<text x="413.10" y="303.90" font-size="7.6" fill="#e3329c" stroke="#e3329c" stroke-width="0.15" text-anchor="middle" textLength="18.6" lengthAdjust="spacingAndGlyphs">Basal</text>
<text x="480.80" y="303.80" font-size="7.6" fill="#f7961f" stroke="#f7961f" stroke-width="0.15" text-anchor="middle" textLength="52.2" lengthAdjust="spacingAndGlyphs">PMA-stimulated</text>
<rect x="0.5" y="0.5" width="519" height="323" fill="none" stroke="#000" stroke-width="1.2"/>
</g></svg>
</body></html>
